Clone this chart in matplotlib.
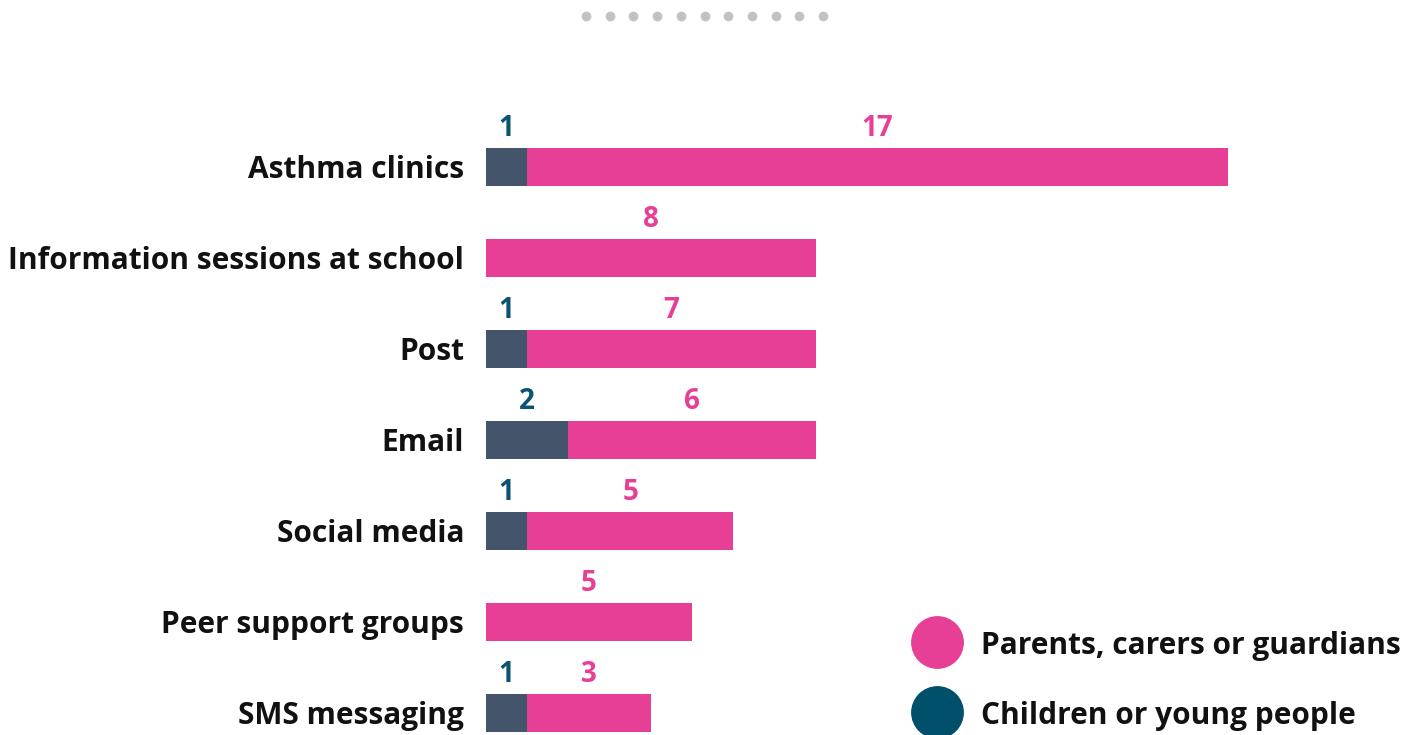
import numpy as np
import matplotlib.pyplot as plt
from matplotlib.lines import Line2D

plt.rcParams['font.family'] = ['Open Sans', 'DejaVu Sans']
plt.rcParams['font.weight'] = 'bold'

categories = ["Asthma clinics", "Information sessions at school", "Post", "Email",
              "Social media", "Peer support groups", "SMS messaging"]
children = [1, 0, 1, 2, 1, 0, 1]
parents = [17, 8, 7, 6, 5, 5, 3]

pink = '#e73f95'
slate = '#44546a'
teal = '#004f6b'
teal_txt = '#0b5370'

W, H = 1423, 735
fig = plt.figure(figsize=(W / 100, H / 100), dpi=100)

# axes sized so one unit ~ 41.2 px and rows are 91 px apart
ax = fig.add_axes([486 / W, 0, 907 / W, 1])
ax.set_xlim(0, 907 / 41.22)
ax.set_ylim((H - 167) / 91, -167 / 91)
ax.axis('off')

y = np.arange(len(categories))
ax.barh(y, children, height=0.41, color=slate)
ax.barh(y, parents, left=children, height=0.41, color=pink)

for i in range(len(categories)):
    if children[i] > 0:
        ax.text(children[i] / 2, i - 0.42, str(children[i]), ha='center', va='center',
                fontsize=20, color=teal_txt, fontweight='bold')
    ax.text(children[i] + parents[i] / 2, i - 0.42, str(parents[i]), ha='center',
            va='center', fontsize=20, color=pink, fontweight='bold')
    ax.text(-22 / 41.22, i + 0.03, categories[i], ha='right', va='center', fontsize=21.5,
            color='#111111', fontweight='bold', clip_on=False)

# legend
for yy, col, lab in [(642, pink, "Parents, carers or guardians"),
                     (712, teal, "Children or young people")]:
    fig.add_artist(Line2D([937 / W], [1 - yy / H], marker='o', markersize=37,
                          color=col, linestyle='none', transform=fig.transFigure))
    fig.text(981 / W, 1 - (yy + 4) / H, lab, ha='left', va='center', fontsize=21.5,
             color='#111111', fontweight='bold')

# page dots along the top
dx = np.linspace(586, 823, 11)
fig.add_artist(Line2D(dx / W, np.full(11, 1 - 16 / H), marker='o', markersize=6,
                      color='#c2c2c2', linestyle='none', transform=fig.transFigure))

fig.savefig('out.png', dpi=100, facecolor='white')
